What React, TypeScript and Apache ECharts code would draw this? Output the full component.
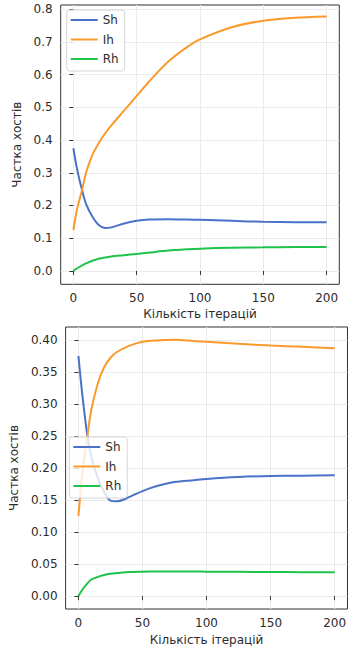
import React, { useEffect, useRef } from "react";
import * as echarts from "echarts";

const xs = [0, 3, 7, 10, 15, 20, 25, 30, 40, 50, 60, 75, 90, 100, 125, 150, 175, 200];

const sh1 = [0.375, 0.31, 0.245, 0.205, 0.166, 0.14, 0.131, 0.133, 0.145, 0.153, 0.157, 0.158, 0.157, 0.156, 0.153, 0.15, 0.149, 0.149];
const ih1 = [0.125, 0.19, 0.25, 0.3, 0.355, 0.39, 0.42, 0.445, 0.49, 0.535, 0.58, 0.64, 0.685, 0.708, 0.745, 0.765, 0.774, 0.778];
const rh1 = [0, 0.008, 0.017, 0.023, 0.031, 0.037, 0.041, 0.044, 0.048, 0.052, 0.056, 0.062, 0.066, 0.068, 0.071, 0.072, 0.073, 0.073];

const sh2 = [0.375, 0.315, 0.25, 0.218, 0.185, 0.163, 0.149, 0.148, 0.155, 0.164, 0.171, 0.178, 0.181, 0.183, 0.186, 0.1875, 0.188, 0.1885];
const ih2 = [0.125, 0.19, 0.25, 0.29, 0.331, 0.357, 0.372, 0.381, 0.391, 0.397, 0.399, 0.4, 0.398, 0.397, 0.394, 0.391, 0.389, 0.387];
const rh2 = [0, 0.01, 0.02, 0.026, 0.03, 0.033, 0.035, 0.036, 0.0378, 0.0383, 0.0385, 0.0385, 0.0384, 0.0383, 0.038, 0.0377, 0.0375, 0.0373];

const xTicks = [0, 50, 100, 150, 200];
const yTicks1 = [0, 0.1, 0.2, 0.3, 0.4, 0.5, 0.6, 0.7, 0.8];
const yTicks2 = [0, 0.05, 0.1, 0.15, 0.2, 0.25, 0.3, 0.35, 0.4];

const names = ["Sh", "Ih", "Rh"];
const colors = ["#4a72c8", "#fb9a2c", "#1fc24b"];

const FONT = "DejaVu Sans";
const TXT = "#2b2b2b";

export default function App() {
  const ref = useRef<HTMLDivElement>(null);
  useEffect(() => {
    if (!ref.current) return;
    const chart = echarts.init(ref.current, undefined, { renderer: "svg" });

    const xAxisBase = (gridIndex: number, nameGap: number) => ({
      type: "value",
      gridIndex,
      min: -10,
      max: 210,
      name: "Кількість ітерацій",
      nameLocation: "middle",
      nameGap,
      nameTextStyle: { fontFamily: FONT, fontSize: 12, color: TXT },
      axisLine: { show: false },
      axisTick: { show: true, inside: false, length: 4, customValues: xTicks, lineStyle: { color: "#333" } },
      axisLabel: { customValues: xTicks, margin: 8, fontFamily: FONT, fontSize: 12, color: TXT },
      splitLine: { show: true, lineStyle: { color: "#ebebeb", width: 1 } },
    });

    const yAxisBase = (gridIndex: number, min: number, max: number, ticks: number[], dec: number, nameGap: number) => ({
      type: "value",
      gridIndex,
      min,
      max,
      name: "Частка хостів",
      nameLocation: "middle",
      nameGap,
      nameTextStyle: { fontFamily: FONT, fontSize: 12, color: TXT },
      axisLine: { show: false },
      axisTick: { show: true, inside: false, length: 4, customValues: ticks, lineStyle: { color: "#333" } },
      axisLabel: {
        customValues: ticks,
        margin: 8,
        fontFamily: FONT,
        fontSize: 12,
        color: TXT,
        formatter: (v: number) => v.toFixed(dec),
      },
      splitLine: { show: true, lineStyle: { color: "#ebebeb", width: 1 } },
    });

    const mk = (name: string, data: number[], color: string, idx: number) => ({
      type: "line",
      name,
      xAxisIndex: idx,
      yAxisIndex: idx,
      data: xs.map((x, i) => [x, data[i]]),
      symbol: "none",
      smooth: 0.3,
      lineStyle: { color, width: 2 },
      itemStyle: { color },
    });

    const legendBase = (left: number, top: number) => ({
      orient: "vertical",
      left,
      top,
      data: names,
      icon: "path://M0,0L27,0L27,2L0,2Z",
      itemWidth: 27,
      itemHeight: 14,
      itemGap: 5.5,
      itemTextGap: 10,
      padding: [3, 6, 5, 4],
      backgroundColor: "rgba(255,255,255,0.8)",
      borderColor: "#d6d6d6",
      borderWidth: 1,
      borderRadius: 3,
      textStyle: { fontFamily: FONT, fontSize: 12, color: TXT, lineHeight: 14 },
    });

    chart.setOption({
      animation: false,
      backgroundColor: "#fff",
      grid: [
        { left: 60.7, top: 5, width: 278.6, height: 279.3, show: true, borderColor: "#333", borderWidth: 1, containLabel: false },
        { left: 63, top: 327, width: 287.4, height: 282, show: true, borderColor: "#333", borderWidth: 1, containLabel: false },
      ],
      xAxis: [xAxisBase(0, 24), xAxisBase(1, 25)],
      yAxis: [
        yAxisBase(0, -0.041, 0.813, yTicks1, 1, 37),
        yAxisBase(1, -0.02, 0.42, yTicks2, 2, 44),
      ],
      legend: [legendBase(66.7, 10), legendBase(69.3, 437)],
      series: [
        mk(names[0], sh1, colors[0], 0),
        mk(names[1], ih1, colors[1], 0),
        mk(names[2], rh1, colors[2], 0),
        mk(names[0], sh2, colors[0], 1),
        mk(names[1], ih2, colors[1], 1),
        mk(names[2], rh2, colors[2], 1),
      ],
    });
    return () => chart.dispose();
  }, []);
  return (
    <div
      ref={ref}
      style={{ position: "absolute", left: 0, top: 0, width: 349, height: 651, background: "#fff" }}
    />
  );
}
